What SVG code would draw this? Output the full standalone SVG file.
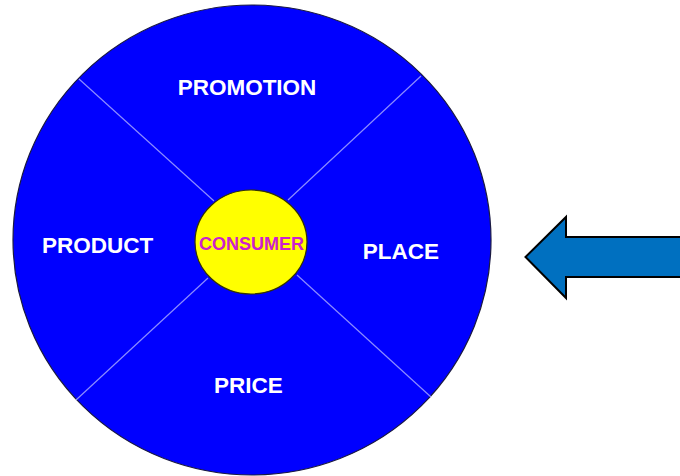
<svg xmlns="http://www.w3.org/2000/svg" width="680" height="476" viewBox="0 0 680 476">
  <style>
    .lbl { font-family: "Liberation Sans", Arial, sans-serif; font-weight: bold; font-size: 22.5px; fill: #ffffff; text-anchor: middle; }
    .div { stroke: #8c8cff; stroke-width: 1.2; fill: none; }
  </style>
  <rect width="680" height="476" fill="#ffffff"/>
  <g id="wheel">
    <ellipse cx="252" cy="240" rx="239" ry="235" fill="#0000ff" stroke="#1a1a40" stroke-width="1.2"/>
  </g>
  <g id="connectors">
    <line class="div" x1="79" y1="79" x2="214" y2="201"/>
    <line class="div" x1="421" y1="76" x2="288" y2="200"/>
    <line class="div" x1="76" y1="400" x2="208" y2="278"/>
    <line class="div" x1="431" y1="397" x2="297" y2="275"/>
  </g>
  <g id="promotion"><text class="lbl" x="247" y="95">PROMOTION</text></g>
  <g id="product"><text class="lbl" x="97.5" y="253">PRODUCT</text></g>
  <g id="place"><text class="lbl" x="401" y="259">PLACE</text></g>
  <g id="price"><text class="lbl" x="248.5" y="393">PRICE</text></g>
  <g id="consumer">
    <ellipse cx="251" cy="242" rx="56" ry="52" fill="#ffff00" stroke="#333300" stroke-width="1.2"/>
    <text x="251.5" y="250" font-family="'Liberation Sans', Arial, sans-serif" font-weight="bold" font-size="18" fill="#cc22cc" text-anchor="middle">CONSUMER</text>
  </g>
  <g id="arrow">
    <polygon points="525.5,257 566,217 566,237 682,237 682,277 566,277 566,298" fill="#0070c0" stroke="#000000" stroke-width="2"/>
  </g>
</svg>
